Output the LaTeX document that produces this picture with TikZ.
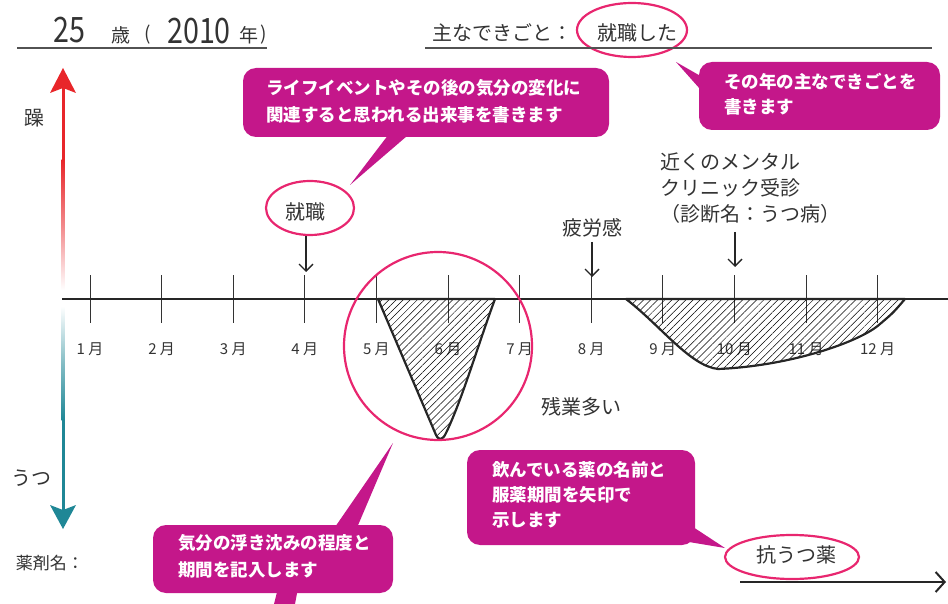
\documentclass[tikz,border=0pt]{standalone}
\usepackage{fontspec}
\newfontfamily\cjk{Noto Sans CJK JP}
\newfontfamily\numf[FakeStretch=0.82]{Noto Sans CJK JP}
\usetikzlibrary{shapes.geometric,arrows.meta,patterns.meta}
\definecolor{mag}{HTML}{C4178A}
\definecolor{ringc}{HTML}{E8266F}
\definecolor{txt}{HTML}{333333}
\definecolor{redc}{HTML}{E8262A}
\definecolor{tealc}{HTML}{1F8796}
\begin{document}
\begin{tikzpicture}[x=1pt,y=-1pt,
  lbl/.style={text=txt, font=\cjk\fontsize{20}{24}\selectfont, inner sep=0},
  lblb/.style={text=txt, font=\cjk\fontsize{20}{26}\selectfont, inner sep=0, align=left, anchor=west},
  mon/.style={text=txt, font=\cjk\fontsize{15}{18}\selectfont, inner sep=0},
  box/.style={fill=mag, rounded corners=13pt, inner sep=0, anchor=north west, outer sep=0},
  boxtext/.style={text=white, font=\cjk\bfseries\fontsize{17.5}{#1}\selectfont, align=left, anchor=west, inner sep=0},
  ring/.style={draw=ringc, line width=2.2pt, ellipse, inner sep=0},
  tickln/.style={draw=txt, line width=0.9pt},
  evarrow/.style={draw=black!85, line width=1.4pt, -{Straight Barb[length=7pt,width=14pt]}},
  hatch/.style={draw=black!85, line width=2.2pt, line join=round, pattern={Lines[angle=45,distance=5pt,line width=0.5pt]}},
  big/.style={text=txt, font=\numf\fontsize{35}{40}\selectfont, inner sep=0},
  small/.style={text=txt, font=\cjk\fontsize{19}{22}\selectfont, inner sep=0},
]
\useasboundingbox (0,0) rectangle (948,604);

% ---- header ----
\node[big] (age) at (69,30) {25};
\node[small] (sai) at (121,35) {歳};
\node[small] (lp) at (148,35) {(};
\node[big] (year) at (199,31) {2010};
\node[small] (nen) at (249,35) {年};
\node[small] (rp) at (264,35) {)};
\draw[draw=txt!85, line width=1.5pt] (17,48) -- (267,48);

\node[lbl, anchor=west] (omo) at (432,33) {主なできごと：};
\node[lbl, anchor=west] (shu) at (597,33) {就職した};
\node[ring, minimum width=110, minimum height=54] (e0) at (632,30) {};
\draw[draw=txt!85, line width=1.5pt] (425,48) -- (932,48);

% ---- callout 1 ----
\node[box, minimum width=366, minimum height=69] (c1) at (243,68) {};
\coordinate (t1) at (350,185);
\fill[mag] (392,130) -- (t1) -- (414,130) -- cycle;
\node[boxtext=27] (c1t) at (266,101.5) {ライフイベントやその後の気分の変化に\\関連すると思われる出来事を書きます};

% ---- callout 2 ----
\node[box, minimum width=241, minimum height=68] (c2) at (699,62) {};
\coordinate (t2) at (676,62);
\fill[mag] (704,78) -- (t2) -- (708,98) -- cycle;
\node[boxtext=25] (c2t) at (724,94.5) {その年の主なできごとを\\書きます};

% ---- vertical axis ----
\fill[redc] (61.5,88) rectangle (64.5,160);
\shade[top color=redc, bottom color=white, middle color=redc!55!white] (61.5,160) rectangle (64.5,290);
\shade[top color=white, bottom color=tealc, middle color=tealc!55!white] (61.5,306) rectangle (64.5,420);
\fill[tealc] (61.5,420) rectangle (64.5,512);
\fill[redc] (63,68) -- (76,93) -- (63,88) -- (50,93) -- cycle;
\fill[tealc] (63,529) -- (76,505) -- (63,510) -- (50,505) -- cycle;
\node[lbl] (so) at (34,118) {躁};
\node[lbl] (utsu) at (32,478) {うつ};
\node[text=txt, font=\cjk\fontsize{17}{20}\selectfont, inner sep=0] (yaku) at (50,563) {薬剤名：};

% ---- time axis ----
\foreach \m in {1,...,12} {
  \pgfmathsetmacro\xx{90+71.6*(\m-1)}
  \draw[tickln] (\xx,275) -- (\xx,323);
  \node[mon] (m\m) at (\xx,349) {\m\ 月};
}
\draw[draw=black!85, line width=1.6pt] (62,299) -- (948,299);

% ---- mood curves ----
\draw[hatch] (378,299) -- (436,435) .. controls (439,441) and (443,440) .. (446,433)
  .. controls (462,400) and (478,345) .. (495,299) -- cycle;
\draw[hatch] (626,299) .. controls (660,325) and (690,366) .. (718,369)
  .. controls (790,366) and (860,342) .. (880,324) .. controls (893,313) .. (905,299) -- cycle;
\node[ring, circle, minimum size=188] (c5) at (438,346) {};
\node[lbl] (zan) at (581,407) {残業多い};

% ---- events ----
\node[lbl] (shu2) at (305,212) {就職};
\node[ring, minimum width=88, minimum height=54] (e1) at (310,208) {};
\coordinate (a1) at (306,272);
\draw[evarrow] (306,236) -- (a1);

\node[lbl] (hiro) at (592,228) {疲労感};
\coordinate (a2) at (592,277);
\draw[evarrow] (592,242) -- (a2);

\node[lblb] (clin) at (660,188) {近くのメンタル\\クリニック受診\\（診断名：うつ病）};
\coordinate (a3) at (735,267);
\draw[evarrow] (735,232) -- (a3);

% ---- callout 3 ----
\node[box, minimum width=240, minimum height=68] (c3) at (153,525) {};
\coordinate (t3) at (393,443);
\fill[mag] (333,530) -- (t3) -- (356,530) -- cycle;
\fill[mag] (278,588) -- (298,588) -- (295,604) -- (274,604) -- cycle;
\node[boxtext=27] (c3t) at (178,556.5) {気分の浮き沈みの程度と\\期間を記入します};

% ---- callout 4 ----
\node[box, minimum width=228, minimum height=95] (c4) at (467,450) {};
\coordinate (t4) at (725,548);
\fill[mag] (677,540) -- (t4) -- (690,525) -- cycle;
\node[boxtext=25] (c4t) at (492,495) {飲んでいる薬の名前と\\服薬期間を矢印で\\示します};

% ---- medication ----
\node[lbl] (kou) at (796,555) {抗うつ薬};
\node[ring, minimum width=134, minimum height=44] (e2) at (792,557) {};
\coordinate (med0) at (740,582);
\coordinate (med1) at (946,582);
\draw[draw=black!85, line width=2pt, -{Straight Barb[length=9pt,width=20pt]}] (med0) -- (med1);
\end{tikzpicture}
\end{document}
